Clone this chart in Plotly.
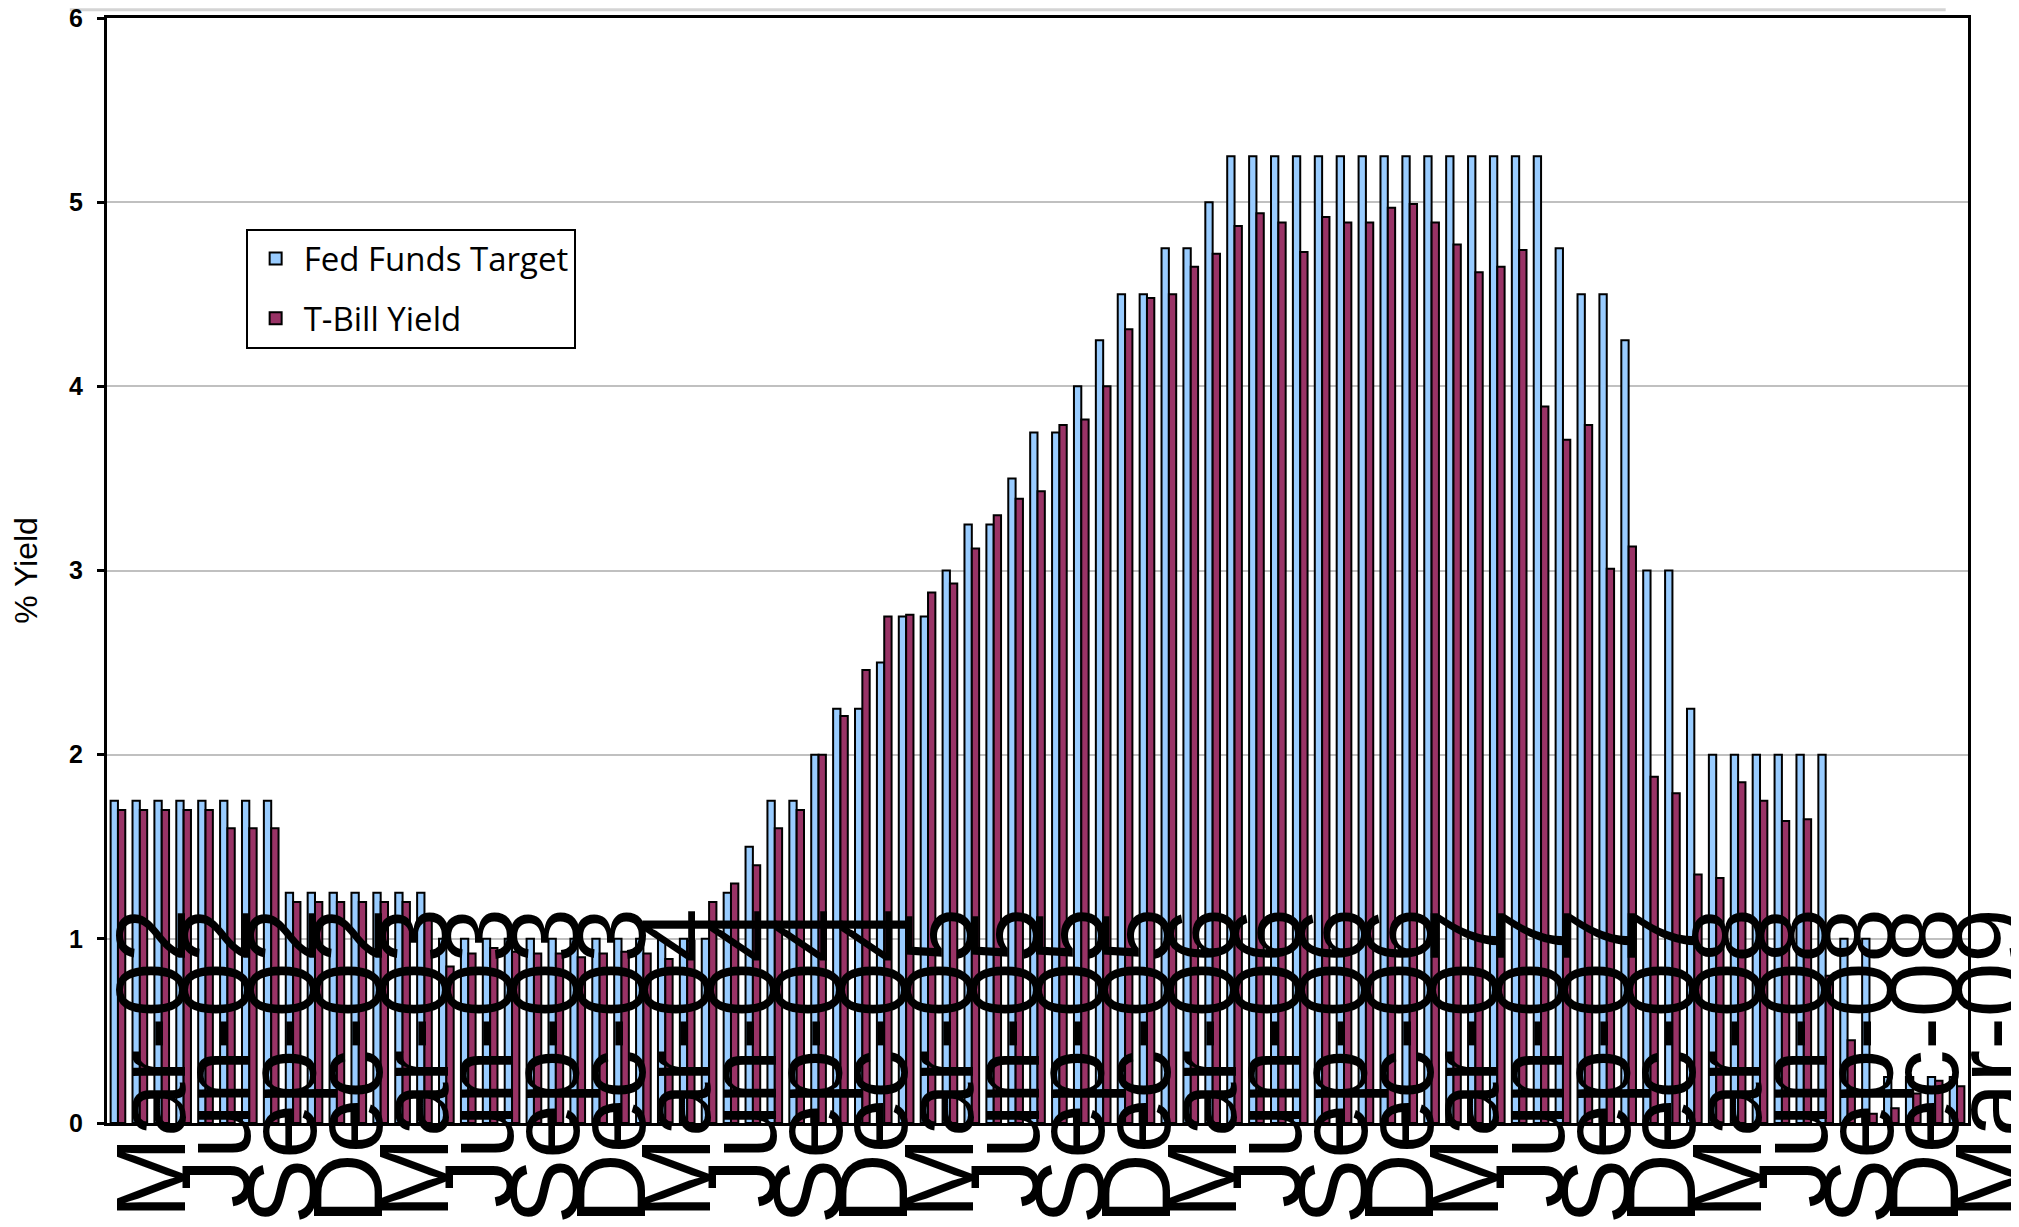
import plotly.graph_objects as go

# Monthly categories (month-end), Mar-2002 .. Mar-2009
months = [
    "Mar-02", "Apr-02", "May-02", "Jun-02", "Jul-02", "Aug-02", "Sep-02", "Oct-02", "Nov-02", "Dec-02",
    "Jan-03", "Feb-03", "Mar-03", "Apr-03", "May-03", "Jun-03", "Jul-03", "Aug-03", "Sep-03", "Oct-03", "Nov-03", "Dec-03",
    "Jan-04", "Feb-04", "Mar-04", "Apr-04", "May-04", "Jun-04", "Jul-04", "Aug-04", "Sep-04", "Oct-04", "Nov-04", "Dec-04",
    "Jan-05", "Feb-05", "Mar-05", "Apr-05", "May-05", "Jun-05", "Jul-05", "Aug-05", "Sep-05", "Oct-05", "Nov-05", "Dec-05",
    "Jan-06", "Feb-06", "Mar-06", "Apr-06", "May-06", "Jun-06", "Jul-06", "Aug-06", "Sep-06", "Oct-06", "Nov-06", "Dec-06",
    "Jan-07", "Feb-07", "Mar-07", "Apr-07", "May-07", "Jun-07", "Jul-07", "Aug-07", "Sep-07", "Oct-07", "Nov-07", "Dec-07",
    "Jan-08", "Feb-08", "Mar-08", "Apr-08", "May-08", "Jun-08", "Jul-08", "Aug-08", "Sep-08", "Oct-08", "Nov-08", "Dec-08",
    "Jan-09", "Feb-09", "Mar-09",
]

# Quarterly axis labels
tick_labels = [
    "Mar-02", "Jun-02", "Sep-02", "Dec-02",
    "Mar-03", "Jun-03", "Sep-03", "Dec-03",
    "Mar-04", "Jun-04", "Sep-04", "Dec-04",
    "Mar-05", "Jun-05", "Sep-05", "Dec-05",
    "Mar-06", "Jun-06", "Sep-06", "Dec-06",
    "Mar-07", "Jun-07", "Sep-07", "Dec-07",
    "Mar-08", "Jun-08", "Sep-08", "Dec-08",
    "Mar-09",
]

fed_funds = [
    1.75, 1.75, 1.75, 1.75, 1.75, 1.75, 1.75, 1.75, 1.25, 1.25,
    1.25, 1.25, 1.25, 1.25, 1.25, 1.00, 1.00, 1.00, 1.00, 1.00, 1.00, 1.00,
    1.00, 1.00, 1.00, 1.00, 1.00, 1.00, 1.25, 1.50, 1.75, 1.75, 2.00, 2.25,
    2.25, 2.50, 2.75, 2.75, 3.00, 3.25, 3.25, 3.50, 3.75, 3.75, 4.00, 4.25,
    4.50, 4.50, 4.75, 4.75, 5.00, 5.25, 5.25, 5.25, 5.25, 5.25, 5.25, 5.25,
    5.25, 5.25, 5.25, 5.25, 5.25, 5.25, 5.25, 5.25, 4.75, 4.50, 4.50, 4.25,
    3.00, 3.00, 2.25, 2.00, 2.00, 2.00, 2.00, 2.00, 2.00, 1.00, 1.00, 0.25,
    0.25, 0.25, 0.25,
]

tbill_yield = [
    1.70, 1.70, 1.70, 1.70, 1.70, 1.60, 1.60, 1.60, 1.20, 1.20,
    1.20, 1.20, 1.20, 1.20, 1.12, 0.85, 0.92, 0.95, 0.93, 0.92, 0.92, 0.90,
    0.92, 0.93, 0.92, 0.89, 0.99, 1.20, 1.30, 1.40, 1.60, 1.70, 2.00, 2.21,
    2.46, 2.75, 2.76, 2.88, 2.93, 3.12, 3.30, 3.39, 3.43, 3.79, 3.82, 4.00,
    4.31, 4.48, 4.50, 4.65, 4.72, 4.87, 4.94, 4.89, 4.73, 4.92, 4.89, 4.89,
    4.97, 4.99, 4.89, 4.77, 4.62, 4.65, 4.74, 3.89, 3.71, 3.79, 3.01, 3.13,
    1.88, 1.79, 1.35, 1.33, 1.85, 1.75, 1.64, 1.65, 0.80, 0.45, 0.05, 0.08,
    0.16, 0.23, 0.20,
]

fig = go.Figure()
fig.add_trace(go.Bar(
    x=months, y=fed_funds, name="Fed Funds Target", legendgroup="a",
    marker=dict(color="#99CCFF", line=dict(color="black", width=2)),
))
fig.add_trace(go.Bar(
    x=months, y=tbill_yield, name="T-Bill Yield", legendgroup="b",
    marker=dict(color="#993366", line=dict(color="black", width=2)),
))

fig.update_layout(
    width=2019, height=1227,
    margin=dict(l=99, r=59, t=10, b=112, autoexpand=False),
    paper_bgcolor="white", plot_bgcolor="white",
    barmode="group", bargap=0.33, bargroupgap=0,
    showlegend=True,
    legend=dict(
        x=0.0745, y=0.8095, xanchor="left", yanchor="top",
        bgcolor="white", bordercolor="black", borderwidth=2,
        font=dict(family="Open Sans", size=33, color="black"),
        tracegroupgap=14, traceorder="grouped", itemwidth=46,
    ),
    font=dict(family="Liberation Sans", color="black"),
)

fig.update_xaxes(
    type="category", range=[-0.5, len(months) - 0.5],
    tickmode="array", tickvals=tick_labels, ticktext=tick_labels,
    tickangle=-90, ticks="",
    tickfont=dict(family="Liberation Sans", size=98, color="black"),
    ticklabelstandoff=-257, ticklabelshift=35,
    showline=True, linecolor="black", linewidth=3, mirror=True,
    showgrid=False, automargin=False,
)

fig.update_yaxes(
    range=[0, 6], dtick=1, tick0=0,
    showgrid=True, gridcolor="#C0C0C0", gridwidth=2, zeroline=False,
    showline=True, linecolor="black", linewidth=3, mirror=True,
    ticks="outside", ticklen=7, tickwidth=3, tickcolor="black",
    tickfont=dict(family="Liberation Sans", size=25, color="black", weight="bold"),
    ticklabelstandoff=9, ticklabeloverflow="allow",
    title=dict(text="% Yield", font=dict(family="Liberation Sans", size=32, color="black"), standoff=31),
    automargin=False,
)

# faint shadow line along the top edge of the picture
fig.add_shape(type="line", xref="paper", yref="paper",
              x0=-0.02, x1=0.988, y0=1.0075, y1=1.0075,
              line=dict(color="#D4D4D4", width=3), layer="below")

fig.write_html("out.html")
